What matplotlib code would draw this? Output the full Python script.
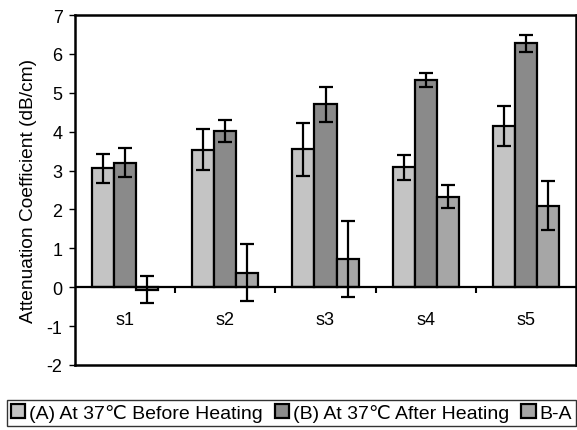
import numpy as np
import matplotlib.pyplot as plt

plt.rcParams['font.family'] = ['Liberation Sans', 'DejaVu Sans']
plt.rcParams['axes.unicode_minus'] = False

# ----------------------------------------------------------------------
# data
# ----------------------------------------------------------------------
samples = ['s1', 's2', 's3', 's4', 's5']
before = [3.06, 3.54, 3.55, 3.08, 4.14]
before_err = [0.37, 0.53, 0.68, 0.31, 0.51]
after = [3.20, 4.01, 4.71, 5.33, 6.27]
after_err = [0.37, 0.28, 0.45, 0.19, 0.22]
diff = [-0.06, 0.37, 0.73, 2.33, 2.10]
diff_err = [0.34, 0.73, 0.98, 0.30, 0.63]

labels = ['(A) At 37\u2103 Before Heating', '(B) At 37\u2103 After Heating', 'B-A']
colors = ['#c4c4c4', '#8a8a8a', '#a6a6a6']

# ----------------------------------------------------------------------
# figure
# ----------------------------------------------------------------------
fig = plt.figure(figsize=(5.77, 4.31), dpi=100)
ax = fig.add_axes([75 / 577, 1 - 366 / 431, 501 / 577, 350 / 431])

x = np.arange(len(samples))
w = 0.22
err_kw = dict(ecolor='black', elinewidth=1.6, capsize=5, capthick=1.6)
series = [(before, before_err), (after, after_err), (diff, diff_err)]
for i, (vals, errs) in enumerate(series):
    ax.bar(x + (i - 1) * w, vals, w, yerr=errs, color=colors[i],
           edgecolor='black', linewidth=1.6, label=labels[i],
           error_kw=err_kw, zorder=2)

ax.axhline(0, color='black', linewidth=1.6, zorder=3)

ax.set_xlim(-0.5, 4.5)
ax.set_ylim(-2, 7)
ax.set_yticks(range(-2, 8))
ax.set_xticks([])
ax.tick_params(axis='y', labelsize=13, length=4, width=1, direction='out', pad=5)
ax.set_ylabel('Attenuation Coefficient (dB/cm)', fontsize=13.8, labelpad=7)
for s in ax.spines.values():
    s.set_linewidth(1.8)

# category axis sitting on the zero line
sec = ax.secondary_xaxis(2 / 9)
sec.spines['bottom'].set_visible(False)
sec.set_xticks(x, samples)
sec.set_xticks(x[:-1] + 0.5, minor=True)
sec.tick_params(axis='x', which='major', length=0, pad=17, labelsize=13)
sec.tick_params(axis='x', which='minor', length=4, width=1.5, direction='out')

leg = fig.legend(loc='center', bbox_to_anchor=(0.505, 1 - 414 / 431), ncol=3,
                 fontsize=14, frameon=True, fancybox=False, edgecolor='black',
                 handlelength=0.75, handleheight=0.75, handletextpad=0.2,
                 columnspacing=0.6, borderpad=0.2, borderaxespad=0)
leg.get_frame().set_linewidth(1.0)

fig.savefig('out.png', dpi=100)
